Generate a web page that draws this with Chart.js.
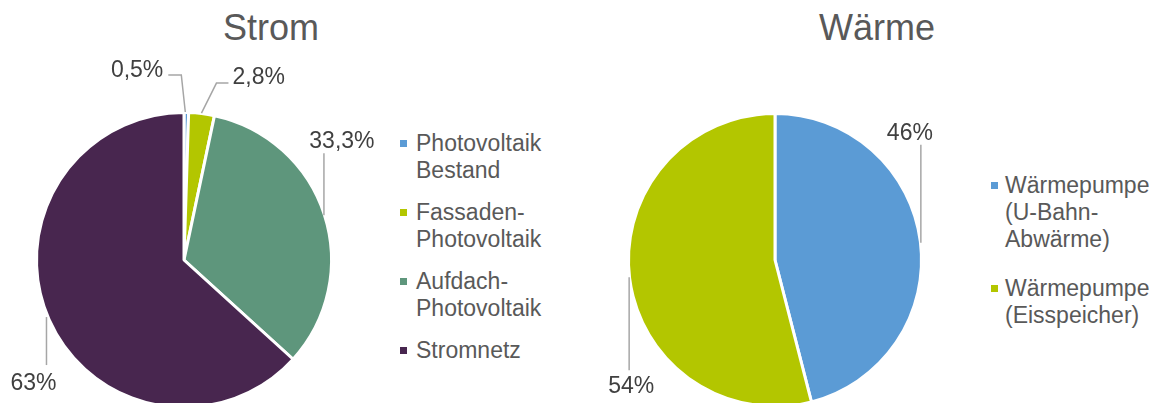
<!DOCTYPE html>
<html><head><meta charset="utf-8">
<script src="https://cdn.jsdelivr.net/npm/chart.js@4"></script>
<style>
html,body{margin:0;padding:0;background:#fff;overflow:hidden;width:1163px;height:403px;}
body{position:relative;font-family:"Liberation Sans",Arial,sans-serif;color:#595959;}
.title{position:absolute;top:10px;font-size:36px;line-height:36px;white-space:nowrap;transform:translateX(-50%);}
canvas{position:absolute;top:0;}
.leg{position:absolute;font-size:23px;line-height:27px;white-space:nowrap;}
.box{position:absolute;width:7px;height:7px;}
</style></head>
<body>
<div class="title" style="left:271px">Strom</div>
<div class="title" style="left:877px">Wärme</div>
<canvas id="c1" width="400" height="420" style="left:0;width:400px;height:420px"></canvas>
<canvas id="c2" width="380" height="420" style="left:580px;width:380px;height:420px"></canvas>
<div id="leg1"></div>
<div id="leg2"></div>
<script>
// ---- data ----
const stromCategories = [['Photovoltaik','Bestand'],['Fassaden-','Photovoltaik'],['Aufdach-','Photovoltaik'],['Stromnetz']];
const stromValues = [0.5, 2.8, 33.3, 63];
const waermeCategories = [['Wärmepumpe','(U-Bahn-','Abwärme)'],['Wärmepumpe','(Eisspeicher)']];
const waermeValues = [46, 54];

// ---- styles ----
const stromColors = ['#5B9BD5','#B3C600','#5E967C','#48264F'];
const waermeColors = ['#5B9BD5','#B3C600'];
const FONT = '"Liberation Sans", Arial, sans-serif';

// label placement relative to the arc's outer mid point
const stromLabelStyle = [
  {text:[-23,-37], align:'right', line:[[-1,-2],[-5,-39],[-18,-39]]},
  {text:[31,-31], align:'left', line:[[0,-2],[15,-32],[27,-32]]},
  {text:[19,-67], align:'center', line:[[1,0],[1,-62]]},
  {text:[-17,71], align:'center', line:[[-4,-2],[-4,46]]}
];
const waermeLabelStyle = [
  {text:[-9,-102], align:'center', line:[[2,1],[2,-97]]},
  {text:[0,115], align:'center', line:[[-2,-1],[-2,92]]}
];

const fmt = v => String(v).replace('.', ',') + '%';

const leaderPlugin = {
  id: 'leaderLabels',
  afterDatasetsDraw(chart, args, opts) {
    const ctx = chart.ctx;
    const meta = chart.getDatasetMeta(0);
    const ds = chart.data.datasets[0];
    meta.data.forEach((arc, i) => {
      const p = arc.getProps(['x','y','startAngle','endAngle','outerRadius'], true);
      const mid = (p.startAngle + p.endAngle) / 2;
      const R = p.outerRadius - 1.5;
      const ax = p.x + Math.cos(mid) * R;
      const ay = p.y + Math.sin(mid) * R;
      const st = opts.styles[i];
      ctx.save();
      ctx.strokeStyle = '#A6A6A6';
      ctx.lineWidth = 1.5;
      ctx.beginPath();
      st.line.forEach((q, k) => {
        const X = ax + q[0], Y = ay + q[1];
        if (k === 0) ctx.moveTo(X, Y); else ctx.lineTo(X, Y);
      });
      ctx.stroke();
      ctx.fillStyle = '#404040';
      ctx.font = '23px ' + FONT;
      ctx.textAlign = st.align;
      ctx.textBaseline = 'alphabetic';
      ctx.fillText(fmt(ds.data[i]), ax + st.text[0], ay + st.text[1]);
      ctx.restore();
    });
  }
};

function makePie(id, cats, vals, colors, styles, padding, radius) {
  return new Chart(document.getElementById(id), {
    type: 'pie',
    data: {
      labels: cats,
      datasets: [{
        data: vals,
        backgroundColor: colors,
        borderColor: '#FFFFFF',
        borderWidth: 3,
        radius: radius
      }]
    },
    options: {
      responsive: false,
      animation: false,
      devicePixelRatio: 1,
      layout: {padding: padding},
      plugins: {
        legend: {display: false},
        title: {display: false},
        tooltip: {enabled: false},
        leaderLabels: {styles: styles}
      }
    },
    plugins: [leaderPlugin]
  });
}

makePie('c1', stromCategories, stromValues, stromColors, stromLabelStyle,
  {left:36, right:68, top:112, bottom:12}, 147.5);
makePie('c2', waermeCategories, waermeValues, waermeColors, waermeLabelStyle,
  {left:47, right:37, top:112, bottom:12}, 146.5);

function makeLegend(elId, cats, colors, boxX, textX, startY, gap) {
  const host = document.getElementById(elId);
  let y = startY;
  cats.forEach((lines, i) => {
    const box = document.createElement('div');
    box.className = 'box';
    box.style.left = boxX + 'px';
    box.style.top = (y + 10) + 'px';
    box.style.background = colors[i];
    host.appendChild(box);
    const t = document.createElement('div');
    t.className = 'leg';
    t.style.left = textX + 'px';
    t.style.top = y + 'px';
    t.innerHTML = lines.join('<br>');
    host.appendChild(t);
    y += lines.length * 27 + gap;
  });
}
makeLegend('leg1', stromCategories, stromColors, 400, 416, 130, 15);
makeLegend('leg2', waermeCategories, waermeColors, 991, 1005, 172, 22);
</script>
</body></html>
